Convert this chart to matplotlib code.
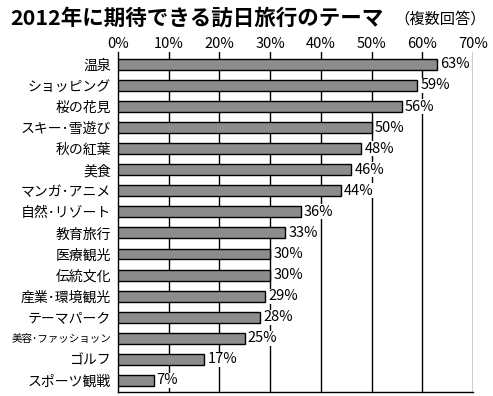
import matplotlib
matplotlib.use('Agg')
import matplotlib.pyplot as plt

plt.rcParams['font.family'] = ['Noto Sans CJK JP', 'DejaVu Sans']

# テーマと割合(%)
themes = ['温泉', 'ショッピング', '桜の花見', 'スキー･雪遊び', '秋の紅葉', '美食',
          'マンガ･アニメ', '自然･リゾート', '教育旅行', '医療観光', '伝統文化',
          '産業･環境観光', 'テーマパーク', '美容･ファッショッン', 'ゴルフ', 'スポーツ観戦']
values = [63, 59, 56, 50, 48, 46, 44, 36, 33, 30, 30, 29, 28, 25, 17, 7]
ticks = [0, 10, 20, 30, 40, 50, 60, 70]

fig = plt.figure(figsize=(4.93, 3.96), dpi=100)
ax = fig.add_axes([0.2394, 0.0101, 0.7200, 0.8586])

pos = list(range(len(themes)))
ax.barh(pos, values, height=0.52, color='#8c8c8c', edgecolor='black', linewidth=1.0, zorder=3)

ax.set_xlim(0, 70)
ax.set_ylim(15.55, -0.59)

for x in ticks[1:]:
    ax.axvline(x, color='black', linewidth=1.0, zorder=1)

for p, v in zip(pos, values):
    ax.text(v + 0.6, p, f'{v}%', va='center', ha='left', fontsize=10.5, zorder=4,
            bbox=dict(facecolor='white', edgecolor='none', pad=0.3))

ax.set_yticks(pos)
ax.set_yticklabels(themes, fontsize=10)
for lab in ax.get_yticklabels():
    if lab.get_text().startswith('美容'):
        lab.set_fontsize(7.6)
ax.tick_params(axis='y', length=0, pad=5)

ax.xaxis.tick_top()
ax.set_xticks(ticks)
ax.set_xticklabels([f'{t}%' for t in ticks], fontsize=10.5)
ax.tick_params(axis='x', length=0, pad=1)

ax.spines['top'].set_visible(False)
ax.spines['right'].set_visible(False)
ax.spines['left'].set_linewidth(1.0)
ax.spines['bottom'].set_linewidth(1.0)

fig.text(0.02, 0.955, '2012年に期待できる訪日旅行のテーマ', fontsize=15.5, fontweight='bold',
         va='center', ha='left')
fig.text(0.985, 0.952, '（複数回答）', fontsize=11, va='center', ha='right')

fig.savefig('out.png', dpi=100)
